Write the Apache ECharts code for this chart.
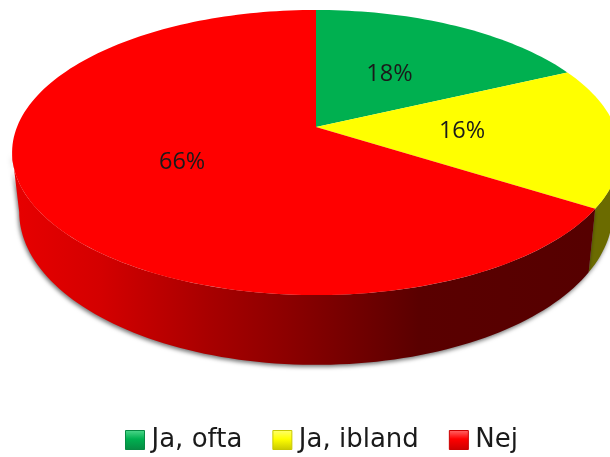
<!DOCTYPE html>
<html>
<head>
<meta charset="utf-8">
<style>html,body{margin:0;padding:0;background:#fff}#c{width:610px;height:457px}</style>
<script src="https://cdn.jsdelivr.net/npm/echarts@6/dist/echarts.min.js"></script>
</head>
<body>
<div id="c"></div>
<script>
const categories = ['Ja, ofta', 'Ja, ibland', 'Nej'];
const values = [18, 16, 66];
const topColors = ['#00b050', '#ffff00', '#ff0000'];
const legendLight = ['#4fd88c', '#ffff70', '#ff6a6a'];
const legendDark = ['#078a43', '#c8c800', '#cc0000'];

const total = values.reduce((a, b) => a + b, 0);
const VIEW = { cx: 316, k: 0.179 };
const TOP = { ay: 127, R: 299, S: 138 };
const BOT = { ay: 184.6, R: 292, S: 148 };
const sideVisible = [100.3, 259.7];
const labelFraction = [0.5, 0.49, 0.5];
const labelShiftX = [-1, -1, 3];
const labelShiftY = [1, 0, 1];

function project(rim, theta, f) {
  const t = theta * Math.PI / 180;
  const x = Math.sin(t) * f, y = -Math.cos(t) * f;
  const d = 1 - VIEW.k * y;
  return [VIEW.cx + rim.R * x / d, rim.ay + rim.S * y / d];
}
function arc(rim, a, b) {
  const n = Math.max(2, Math.ceil(Math.abs(b - a) / 1.5));
  const pts = [];
  for (let i = 0; i <= n; i++) pts.push(project(rim, a + (b - a) * i / n, 1));
  return pts;
}
const cum = [];
values.reduce((s, v, i) => { cum[i] = [s / total * 360, (s + v) / total * 360]; return s + v; }, 0);

const sideFill = [
  null,
  '#6b6b00',
  { type: 'linear', x: 20, y: 0, x2: 590, y2: 0, global: true, colorStops: [
    { offset: 0, color: '#e60000' }, { offset: 0.14, color: '#d40000' },
    { offset: 0.33, color: '#a80000' }, { offset: 0.47, color: '#8c0000' },
    { offset: 0.7, color: '#5a0000' }, { offset: 1, color: '#560000' } ] }
];

const series = categories.map((name, i) => ({
  type: 'custom',
  name,
  coordinateSystem: 'none',
  color: topColors[i],
  animation: false,
  silent: true,
  z: 2 + i,
  data: [[values[i]]],
  renderItem: function () {
    const [a, b] = cum[i];
    const children = [];
    const s = Math.max(a, sideVisible[0]), e = Math.min(b, sideVisible[1]);
    if (sideFill[i] && e > s) {
      const pts = arc(TOP, s, e).concat(arc(BOT, s, e).reverse());
      children.push({ type: 'polygon', z2: 1, shape: { points: pts },
        style: { fill: sideFill[i], shadowColor: 'rgba(0,0,0,0.55)', shadowBlur: 4, shadowOffsetX: -1, shadowOffsetY: 2 } });
    }
    const top = [project(TOP, a, 0)].concat(arc(TOP, a, b));
    children.push({ type: 'polygon', z2: 2, shape: { points: top }, style: { fill: topColors[i] } });
    const lp = project(TOP, (a + b) / 2, labelFraction[i]);
    children.push({ type: 'text', z2: 3, style: {
      text: values[i] + '%', x: lp[0] + labelShiftX[i], y: lp[1] + labelShiftY[i], align: 'center', verticalAlign: 'middle',
      fill: '#1a1a1a', font: '23.5px "Open Sans", "Noto Sans", sans-serif' } });
    return { type: 'group', children };
  }
}));

const chart = echarts.init(document.getElementById('c'), null, { renderer: 'canvas' });
chart.setOption({
  backgroundColor: '#fff',
  animation: false,
  legend: {
    left: 125, top: 427,
    itemWidth: 19, itemHeight: 19, itemGap: 30,
    selectedMode: false,
    padding: 0,
    textStyle: { fontFamily: '"DejaVu Sans", sans-serif', fontSize: 26, color: '#1a1a1a', padding: [0, 0, 0, 2] },
    data: categories.map((name, i) => ({
      name, icon: 'rect',
      itemStyle: { color: { type: 'linear', x: 0, y: 0, x2: 0, y2: 1, colorStops: [
        { offset: 0, color: legendLight[i] }, { offset: 0.45, color: topColors[i] }, { offset: 1, color: legendDark[i] } ] },
        borderColor: legendDark[i], borderWidth: 1 }
    }))
  },
  series
});
</script>
</body>
</html>
